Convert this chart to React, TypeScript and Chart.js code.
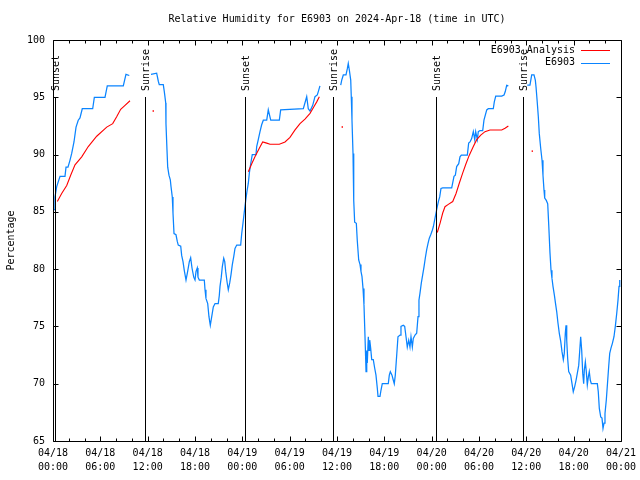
import React, { useEffect, useRef } from 'react';
import { Chart, registerables } from 'chart.js';

Chart.register(...registerables);

const TITLE = 'Relative Humidity for E6903 on 2024-Apr-18 (time in UTC)';
const Y_TITLE = 'Percentage';
const FONT = 'DejaVu Sans Mono';

const X_MIN = 0;
const X_MAX = 72;
const X_MAJOR = 6;
const X_MINOR = 2;
const X_DATES = ['04/18', '04/18', '04/18', '04/18', '04/19', '04/19', '04/19', '04/19', '04/20', '04/20', '04/20', '04/20', '04/21'];
const X_TIMES = ['00:00', '06:00', '12:00', '18:00', '00:00', '06:00', '12:00', '18:00', '00:00', '06:00', '12:00', '18:00', '00:00'];

const Y_MIN = 65;
const Y_MAX = 100;
const Y_STEP = 5;

const SUN_HOURS = [0.25, 11.6, 24.4, 35.5, 48.5, 59.6];
const SUN_LABELS = ['Sunset', 'Sunrise', 'Sunset', 'Sunrise', 'Sunset', 'Sunrise'];
const SUN_LINE_TOP = 95;

const LEGEND_LABELS = ['E6903 Analysis', 'E6903'];
const ANA_COLOR = '#ff0000';
const OBS_COLOR = '#0a84ff';

// Observed E6903 (hours since 04/18 00:00 UTC, %); null = gap
const OBS_HOURS = [
  0.13, 0.25, 0.47, 0.89, 1.52, 1.65, 1.9, 2.15, 2.37, 2.66, 2.92, 3.2, 3.42, 3.71, 4.69, 5.03, 5.24, 6.59, 6.88, 8.91, 9.25, 9.67,
  11,
  12.42, 13.14, 13.35, 13.47, 13.98, 14.11, 14.29, 14.32, 14.45, 14.54, 14.7, 14.87, 14.96, 15.12, 15.21, 15.34, 15.59, 15.76, 15.88,
  16.19, 16.31, 16.48, 16.64, 16.86, 17.07, 17.28, 17.45, 17.62, 17.84, 18.0, 18.13, 18.29, 18.38, 18.55, 19.18, 19.27, 19.39, 19.61,
  19.77, 19.94, 20.12, 20.32, 20.54, 20.95, 21.08, 21.17, 21.33, 21.46, 21.64, 21.77, 21.89, 22.06, 22.22, 22.4, 22.56, 22.73, 22.91,
  23.07, 23.29, 23.79, 23.92, 24.08, 24.25, 24.43, 24.59, 24.76, 24.89, 25.06, 25.26, 25.73, 25.82, 26.02, 26.24, 26.45, 26.66, 27.09,
  27.29, 27.6, 28.69, 28.86, 31.73, 32.16, 32.36, 32.58, 32.92, 33.21, 33.5, 33.63, 33.84,
  35,
  36.47, 36.6, 36.8, 37.14, 37.31, 37.43, 37.56, 37.74, 37.81, 37.9, 38.03, 38.12, 38.24, 38.45, 38.57, 38.75, 38.92, 39.04, 39.17,
  39.3, 39.42, 39.51, 39.59, 39.68, 39.77, 39.84, 39.97, 40.06, 40.15, 40.27, 40.4, 40.6, 40.78, 40.94, 41.11, 41.2, 41.45, 41.58,
  41.74, 42.5, 42.63, 42.76, 42.97, 43.14, 43.26, 43.39, 43.57, 43.73, 43.99, 44.11, 44.4, 44.58, 44.75, 44.91, 45.09, 45.25, 45.38,
  45.55, 45.67, 45.89, 46.1, 46.27, 46.39, 46.52, 46.69, 46.86, 47.03, 47.19, 47.37, 47.54, 47.7, 47.88, 48.04, 48.21, 48.38, 48.55,
  48.71, 48.89, 49.02, 49.18, 49.4, 50.54, 50.83, 51.0, 51.17, 51.43, 51.59, 51.76, 52.52, 52.69, 52.86, 53.07, 53.28, 53.46, 53.58,
  53.79, 53.91, 54.13, 54.47, 54.63, 54.98, 55.18, 55.81, 55.94, 56.12, 56.88, 57.17, 57.33, 57.51, 57.72,
  59,
  60.12, 60.46, 60.68, 60.97, 61.14, 61.23, 61.39, 61.52, 61.64, 61.82, 61.99, 62.11, 62.24, 62.33, 62.53, 62.71, 62.84, 63.0, 63.13,
  63.25, 63.38, 63.55, 63.72, 63.85, 64.01, 64.18, 64.36, 64.52, 64.69, 64.81, 64.94, 65.03, 65.12, 65.24, 65.37, 65.62, 65.79, 65.95,
  66.13, 66.3, 66.46, 66.64, 66.77, 66.89, 67.02, 67.15, 67.27, 67.35, 67.48, 67.6, 67.73, 67.86, 67.98, 68.11, 68.24, 69.0, 69.12,
  69.25, 69.43, 69.59, 69.72, 69.85, 69.97, 70.14, 70.26, 70.44, 70.57, 70.73, 70.9, 71.11, 71.28, 71.46, 71.62, 71.75, 71.84,
];
const OBS_VALUES = [
  85.2, 86.3, 87.2, 88.1, 88.1, 88.9, 88.9, 89.5, 90.1, 91.1, 92.4, 93.0, 93.2, 94.0, 94.0, 94.0, 95.0, 95.0, 96.0, 96.0, 97.0, 96.9,
  null,
  97.0, 97.1, 96.4, 96.1, 96.1, 95.5, 94.5, 92.7, 90.4, 88.9, 88.2, 87.8, 87.2, 86.3, 84.9, 83.1, 83.0, 82.4, 82.1,
  82.0, 81.2, 80.65, 79.9, 79.05, 79.8, 80.65, 81.0, 80.1, 79.3, 79.05, 79.8, 80.1, 79.3, 79.05, 79.05, 78.2, 77.45, 77.0,
  75.85, 75.1, 75.85, 76.7, 77.0, 77.0, 77.7, 78.5, 79.3, 80.2, 80.95, 80.65, 79.8, 78.9, 78.2, 78.8, 79.5, 80.4, 81.1,
  81.8, 82.1, 82.1, 83.1, 84.0, 85.0, 86.0, 86.8, 87.5, 88.4, 89.2, 90.0, 90.0, 90.7, 91.3, 92.0, 92.6, 93.0, 93.0,
  93.9, 93.0, 93.0, 93.9, 94.0, 95.05, 94.0, 93.8, 94.3, 95.05, 95.2, 95.5, 96.0,
  null,
  96.07, 96.5, 96.95, 96.95, 97.5, 97.95, 97.4, 96.5, 95.05, 93.0, 90.1, 86.0, 84.1, 84.0, 82.5, 80.8, 80.4, 79.8, 79.35,
  78.3, 76.9, 75.0, 73.2, 71.05, 72.9, 71.8, 74.1, 72.9, 73.8, 73.1, 72.1, 72.1, 71.35, 70.75, 69.6, 68.9, 68.9, 69.45,
  70.0, 70.0, 70.75, 71.05, 70.75, 70.3, 70.0, 70.75, 72.5, 74.1, 74.25, 75.0, 75.1, 75.0, 74.1, 73.2, 73.8, 73.2, 74.1,
  73.2, 73.95, 74.25, 74.4, 75.85, 77.3, 77.9, 78.8, 79.5, 80.2, 80.95, 81.7, 82.25, 82.7, 83.0, 83.3, 83.7, 84.3, 84.9,
  85.45, 86.0, 86.3, 87.05, 87.1, 87.1, 88.1, 88.2, 88.95, 89.2, 89.8, 89.95, 89.95, 91.0, 91.1, 91.4, 92.0, 91.3, 92.0,
  91.3, 92.0, 92.1, 92.1, 93.0, 93.9, 94.0, 94.0, 94.6, 95.1, 95.1, 95.2, 95.5, 96.05, 96.0,
  null,
  96.07, 96.07, 96.95, 96.95, 96.5, 95.9, 94.5, 93.3, 91.85, 90.55, 89.5, 88.2, 86.9, 86.2, 86.0, 85.7, 83.85, 81.4, 79.9,
  79.2, 78.5, 77.75, 76.9, 76.3, 75.3, 74.4, 73.7, 72.8, 72.1, 72.65, 74.4, 75.1, 73.8, 72.2, 71.05, 70.75, 70.0, 69.3,
  69.75, 70.3, 70.9, 71.6, 72.9, 74.1, 72.9, 70.9, 70.0, 71.2, 71.9, 71.05, 69.9, 70.6, 71.05, 70.3, 70.0, 70.0, 69.3,
  67.85, 67.1, 67.0, 66.1, 66.55, 67.4, 68.6, 69.75, 71.5, 72.65, 73.1, 73.5, 74.1, 75.0, 76.15, 77.3, 78.5, 79.05,
];

// E6903 Analysis
const ANA_HOURS = [
  0.55, 1.1, 1.74, 2.24, 2.79, 3.64, 4.47, 5.54, 6.81, 7.57, 8.07, 8.58, 9.13, 9.76,
  11, 12.71, 13,
  24.76, 25.19, 25.6, 26.15, 26.58, 27.09, 27.51, 28.69, 29.41, 30.04, 30.68, 31.31, 31.94, 32.58, 33.09, 33.43, 33.76,
  35, 36.67, 37,
  48.71, 49.06, 49.4, 49.69, 50.11, 50.67, 51.09, 51.5, 51.94, 52.35, 52.77, 53.28, 53.71, 54.22, 54.76, 55.39, 56.24, 56.88, 57.3, 57.72,
  59, 60.76,
];
const ANA_VALUES = [
  85.9, 86.6, 87.3, 88.2, 89.1, 89.8, 90.7, 91.6, 92.4, 92.7, 93.3, 93.95, 94.3, 94.7,
  null, 93.8, null,
  88.5, 89.2, 89.8, 90.55, 91.1, 91.0, 90.9, 90.9, 91.1, 91.5, 92.15, 92.7, 93.1, 93.6, 94.2, 94.6, 95.05,
  null, 92.4, null,
  83.2, 84.0, 84.9, 85.45, 85.65, 85.9, 86.6, 87.5, 88.4, 89.2, 89.95, 90.7, 91.3, 91.7, 92.0, 92.15, 92.15, 92.15, 92.3, 92.5,
  null, 90.3,
];

const toPoints = (xs: number[], ys: (number | null)[]) => xs.map((x, i) => ({ x, y: ys[i] }));

const overlayPlugin = {
  id: 'gnuplotOverlay',
  afterDatasetsDraw(chart: any) {
    const { ctx, chartArea: a, scales } = chart;
    const xs = scales.x;
    const ys = scales.y;
    ctx.save();
    ctx.strokeStyle = '#000';
    ctx.lineWidth = 1;
    ctx.fillStyle = '#000';
    ctx.font = `10px "${FONT}"`;
    const yTop = Math.round(ys.getPixelForValue(SUN_LINE_TOP));
    SUN_HOURS.forEach((h, i) => {
      const x = Math.round(xs.getPixelForValue(h)) + 0.5;
      ctx.beginPath();
      ctx.moveTo(x, yTop);
      ctx.lineTo(x, a.bottom);
      ctx.stroke();
      ctx.save();
      ctx.translate(x + 1, yTop - 6);
      ctx.rotate(-Math.PI / 2);
      ctx.textAlign = 'left';
      ctx.textBaseline = 'middle';
      ctx.fillText(SUN_LABELS[i], 0, 0);
      ctx.restore();
    });
    ctx.restore();
  },
  afterDraw(chart: any) {
    const { ctx, chartArea: a, scales } = chart;
    const xs = scales.x;
    const ys = scales.y;
    ctx.save();
    ctx.strokeStyle = '#000';
    ctx.lineWidth = 1;
    const L = Math.round(a.left) + 0.5;
    const R = Math.round(a.right) + 0.5;
    const T = Math.round(a.top) + 0.5;
    const B = Math.round(a.bottom) + 0.5;
    ctx.beginPath();
    ctx.rect(L, T, R - L, B - T);
    ctx.stroke();
    ctx.beginPath();
    xs.ticks.forEach((t: any) => {
      const x = Math.round(xs.getPixelForValue(t.value)) + 0.5;
      const len = t.value % X_MAJOR === 0 ? 5 : 3;
      ctx.moveTo(x, B);
      ctx.lineTo(x, B - len);
      ctx.moveTo(x, T);
      ctx.lineTo(x, T + len);
    });
    ys.ticks.forEach((t: any) => {
      const y = Math.round(ys.getPixelForValue(t.value)) + 0.5;
      ctx.moveTo(L, y);
      ctx.lineTo(L + 5, y);
      ctx.moveTo(R, y);
      ctx.lineTo(R - 5, y);
    });
    ctx.stroke();

    // title
    ctx.fillStyle = '#000';
    ctx.font = `10px "${FONT}"`;
    ctx.textAlign = 'center';
    ctx.textBaseline = 'middle';
    ctx.fillText(TITLE, (a.left + a.right) / 2, 19);

    // legend
    const colors = [ANA_COLOR, OBS_COLOR];
    LEGEND_LABELS.forEach((lab, i) => {
      const y = a.top + 10 + i * 12.5;
      ctx.fillStyle = '#000';
      ctx.textAlign = 'right';
      ctx.fillText(lab, a.right - 46, y);
      ctx.strokeStyle = colors[i];
      ctx.beginPath();
      ctx.moveTo(a.right - 40, Math.round(y) + 0.5);
      ctx.lineTo(a.right - 11, Math.round(y) + 0.5);
      ctx.stroke();
    });
    ctx.restore();
  },
};

export default function App() {
  const ref = useRef<HTMLCanvasElement>(null);
  useEffect(() => {
    if (!ref.current) return;
    const chart = new Chart(ref.current, {
      type: 'line',
      data: {
        datasets: [
          {
            label: LEGEND_LABELS[0],
            data: toPoints(ANA_HOURS, ANA_VALUES),
            borderColor: ANA_COLOR,
            backgroundColor: ANA_COLOR,
            borderWidth: 1.1,
            tension: 0,
            spanGaps: false,
            pointStyle: 'rect',
            pointBorderWidth: 0,
            pointRadius: (c: any) => {
              const i = c.dataIndex;
              const v = ANA_VALUES[i];
              const p = i > 0 ? ANA_VALUES[i - 1] : null;
              const n = i < ANA_VALUES.length - 1 ? ANA_VALUES[i + 1] : null;
              return v != null && p == null && n == null ? 1 : 0;
            },
          },
          {
            label: LEGEND_LABELS[1],
            data: toPoints(OBS_HOURS, OBS_VALUES),
            borderColor: OBS_COLOR,
            backgroundColor: OBS_COLOR,
            borderWidth: 1.25,
            tension: 0,
            spanGaps: false,
            pointRadius: 0,
          },
        ],
      },
      options: {
        responsive: false,
        maintainAspectRatio: false,
        animation: false,
        layout: { padding: { top: 40, right: 19, left: 0, bottom: 0 } },
        plugins: {
          legend: { display: false },
          tooltip: { enabled: false },
          title: { display: false },
        },
        scales: {
          x: {
            type: 'linear',
            min: X_MIN,
            max: X_MAX,
            afterBuildTicks: (s: any) => {
              const t = [];
              for (let v = X_MIN; v <= X_MAX; v += X_MINOR) t.push({ value: v });
              s.ticks = t;
            },
            afterFit: (s: any) => {
              s.height = 39;
              s.paddingLeft = 0;
              s.paddingRight = 0;
            },
            grid: { display: false, drawTicks: false },
            border: { display: false },
            ticks: {
              autoSkip: false,
              maxRotation: 0,
              minRotation: 0,
              padding: 5,
              color: '#000',
              font: { family: FONT, size: 10, lineHeight: 1.4 },
              callback: (v: any) => {
                const n = Number(v);
                if (n % X_MAJOR !== 0) return '';
                const k = n / X_MAJOR;
                return [X_DATES[k], X_TIMES[k]];
              },
            },
          },
          y: {
            type: 'linear',
            min: Y_MIN,
            max: Y_MAX,
            afterFit: (s: any) => {
              s.width = 53;
              s.paddingTop = 0;
              s.paddingBottom = 0;
            },
            grid: { display: false, drawTicks: false },
            border: { display: false },
            ticks: {
              stepSize: Y_STEP,
              padding: 8,
              color: '#000',
              font: { family: FONT, size: 10 },
              callback: (v: any) => String(v),
            },
            title: {
              display: true,
              text: Y_TITLE,
              color: '#000',
              font: { family: FONT, size: 10 },
              padding: { top: 5, bottom: 0 },
            },
          },
        },
      },
      plugins: [overlayPlugin],
    } as any);
    return () => chart.destroy();
  }, []);
  return (
    <div style={{ position: 'absolute', left: 0, top: 0, width: 640, height: 480, background: '#fff' }}>
      <canvas ref={ref} width={640} height={480} style={{ display: 'block' }} />
    </div>
  );
}
